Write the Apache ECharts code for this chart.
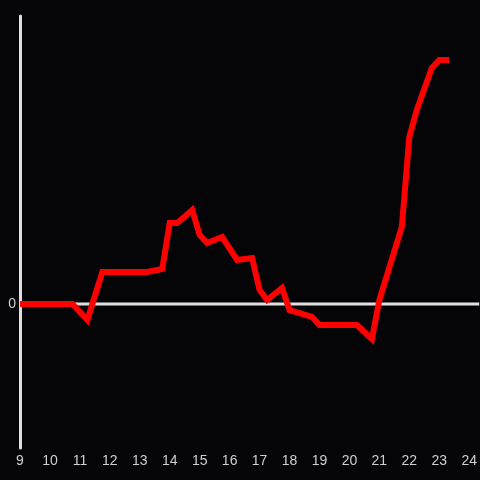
<!DOCTYPE html>
<html>
<head>
<meta charset="utf-8">
<script src="https://cdn.jsdelivr.net/npm/echarts@6/dist/echarts.min.js"></script>
<style>
html,body{margin:0;padding:0;background:#050407;}
#chart{width:480px;height:480px;}
</style>
</head>
<body>
<div id="chart"></div>
<script>
var hours = [9, 10.75, 11.25, 11.75, 13.25, 13.75, 14, 14.25, 14.75, 15, 15.25, 15.75, 16.25, 16.75, 17, 17.25, 17.75, 18, 18.75, 19, 20.25, 20.75, 21, 21.75, 22, 22.25, 22.75, 23, 23.33];
var values = [0, 0, -16, 32, 32, 35, 81, 81, 94, 69, 61, 67, 44, 46, 14, 4, 16, -6, -13, -21, -21, -35, 4, 77, 167, 194, 236, 244, 244];
var xTicks = [9, 10, 11, 12, 13, 14, 15, 16, 17, 18, 19, 20, 21, 22, 23, 24];
var xMin = 9, xMax = 24.3333;
var zeroLine = [[xMin, 0], [xMax, 0]];

var data = hours.map(function (h, i) { return [h, values[i]]; });

var chart = echarts.init(document.getElementById('chart'), null, {renderer: 'canvas'});
chart.setOption({
  backgroundColor: '#050407',
  animation: false,
  grid: {left: 20, right: 0, top: 16, bottom: 32, containLabel: false},
  xAxis: {
    type: 'value', min: xMin, max: xMax, interval: 1,
    axisLine: {show: false, onZero: false},
    axisTick: {show: false},
    splitLine: {show: false},
    axisLabel: {
      color: '#d0d0d0', fontSize: 14, margin: 6, fontFamily: 'Liberation Sans, Arial, sans-serif',
      showMaxLabel: false,
      formatter: function (v) { return xTicks.indexOf(v) >= 0 ? String(v) : ''; }
    },
    position: 'bottom'
  },
  yAxis: {
    type: 'value', min: -144, max: 288, interval: 144,
    axisLine: {show: true, lineStyle: {color: '#e0e0e0', width: 3}},
    axisTick: {show: false},
    splitLine: {show: false},
    axisLabel: {
      color: '#d0d0d0', fontSize: 14, margin: 4, fontFamily: 'Liberation Sans, Arial, sans-serif',
      formatter: function (v) { return v === 0 ? '0' : ''; }
    }
  },
  series: [{
    type: 'line',
    data: zeroLine,
    showSymbol: false,
    symbol: 'none',
    silent: true,
    lineStyle: {color: '#e0e0e0', width: 3},
    z: 1
  }, {
    type: 'line',
    data: data,
    showSymbol: false,
    symbol: 'none',
    lineStyle: {color: '#ff0000', width: 6, join: 'miter', cap: 'butt'},
    z: 5
  }]
});
</script>
</body>
</html>
